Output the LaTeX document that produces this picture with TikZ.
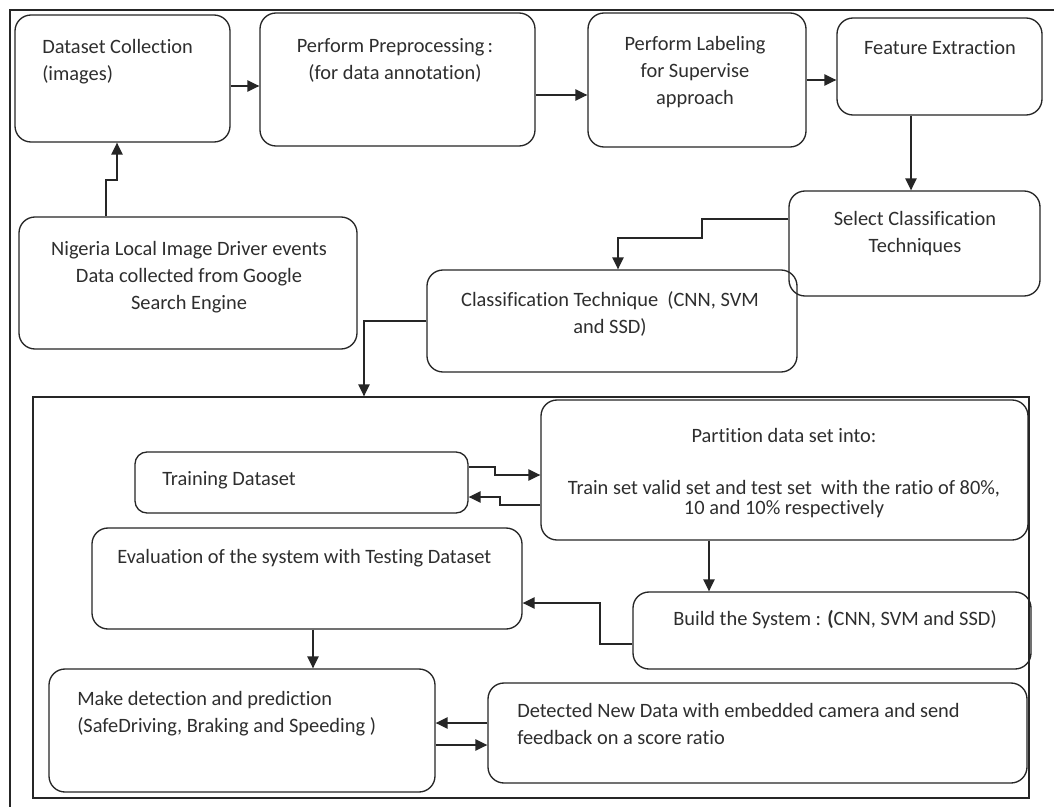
\documentclass[tikz,border=0pt]{standalone}
\usepackage{fontspec}
\setmainfont{Carlito}[Ligatures=NoCommon]
\usetikzlibrary{fit,arrows.meta}
\begin{document}
\begin{tikzpicture}[x=0.75pt,y=-0.75pt,
  box/.style={draw=black!85, line width=1pt, rounded corners=12pt, inner sep=0pt},
  frame/.style={draw=black!85, line width=1pt, inner sep=0pt},
  txt/.style={inner sep=0pt, text=black!82, font=\fontsize{15.3}{20.25}\selectfont},
  arr/.style={draw=black!85, line width=1.1pt, -{Triangle[length=9pt,width=8.5pt]}},
  ]
\useasboundingbox (0,0) rectangle (1054,807);
\fill[white] (0,0) rectangle (1054,807);
% outer frame (only left and top visible)
\draw[black!85, line width=1pt] (10,807) -- (10,10) -- (1054,10);

% boxes
\node[box, fit={(15,15) (230,142)}] (dc) {};
\node[box, fit={(260,13) (535,146)}] (pp) {};
\node[box, fit={(588,13) (806,147)}] (lb) {};
\node[box, fit={(837,18) (1042,115)}] (fe) {};
\node[box, fit={(19,217) (357,349)}] (nig) {};
\node[box, fit={(789,191) (1040,296)}] (sc) {};
\node[box, fit={(427,270) (797,372)}] (ct) {};
\node[frame, fit={(33,397) (1029,798)}] (inner) {};
\node[box, rounded corners=9pt, fit={(135,452) (468,513)}] (tr) {};
\node[box, fit={(541,400) (1028,540)}] (pt) {};
\node[box, fit={(92,528) (522,629)}] (ev) {};
\node[box, fit={(633,592) (1031,669)}] (bs) {};
\node[box, fit={(49,669) (435,792)}] (md) {};
\node[box, fit={(488,683) (1027,783)}] (dn) {};

% texts
\node[txt, anchor=north west, align=left] (dct) at (42,34) {\strut Dataset Collection\\(images)};
\node[txt, anchor=north, align=center] (ppt) at (395,33) {\strut Perform Preprocessing\,:\\(for data annotation)};
\node[txt, anchor=north, align=center] (lbt) at (695,31) {\strut Perform Labeling\\for Supervise\\approach};
\node[txt, anchor=north, align=center] (fet) at (940,35) {\strut Feature Extraction};
\node[txt, anchor=north, align=center] (nigt) at (189,236) {\strut Nigeria Local Image Driver events\\Data collected from Google\\Search Engine};
\node[txt, anchor=north, align=center] (sct) at (915,206) {\strut Select Classification\\Techniques};
\node[txt, anchor=north, align=center] (ctt) at (610,287) {\strut Classification Technique~ (CNN, SVM\\and SSD)};
\node[txt, anchor=north west, align=left] (trt) at (162,466) {\strut Training Dataset};
\node[txt, anchor=north, align=center] (ptt) at (784,423) {\strut Partition data set into:\\[18.75pt]Train set valid set and test set~ with the ratio of 80\%,\\[-5pt]10 and 10\% respectively};
\node[txt, anchor=north west, align=left] (evt) at (117,544) {\strut Evaluation of the system with Testing Dataset};
\node[txt, anchor=north west, align=left] (bst) at (673,606) {\strut Build the System : \textbf{(}CNN, SVM and SSD)};
\node[txt, anchor=north west, align=left] (mdt) at (77,686) {\strut Make detection and prediction\\(SafeDriving, Braking and Speeding )};
\node[txt, anchor=north west, align=left] (dnt) at (517,698) {\strut Detected New Data with embedded camera and send\\feedback on a score ratio};

% helper coordinates
\coordinate (ya) at (0,86);
\coordinate (yb) at (0,95);
\coordinate (yc) at (0,80);
\coordinate (xd) at (911,0);
\coordinate (e1) at (106,180);
\coordinate (e2) at (117,180);
\coordinate (f1) at (702,219);
\coordinate (f2) at (702,238);
\coordinate (f3) at (618,238);
\coordinate (g1) at (364,321);
\coordinate (h1) at (495,467);
\coordinate (h2) at (495,475);
\coordinate (h3) at (500,505);
\coordinate (h4) at (500,497);
\coordinate (xi) at (709,0);
\coordinate (j1) at (600,644);
\coordinate (j2) at (600,603);
\coordinate (xk) at (313,0);
\coordinate (yl1) at (0,723);
\coordinate (yl2) at (0,745);

% connectors
\draw[arr] (dc.east |- ya) -- (pp.west |- ya);
\draw[arr] (pp.east |- yb) -- (lb.west |- yb);
\draw[arr] (lb.east |- yc) -- (fe.west |- yc);
\draw[arr] (fe.south -| xd) -- (sc.north -| xd);
\draw[arr] (nig.north -| e1) -- (e1) -- (e2) -- (dc.south -| e2);
\draw[arr] (sc.west |- f1) -- (f1) -- (f2) -- (f3) -- (ct.north -| f3);
\draw[arr] (ct.west |- g1) -- (g1) -- (inner.north -| g1);
\draw[arr] (tr.east |- h1) -- (h1) -- (h2) -- (pt.west |- h2);
\draw[arr] (pt.west |- h3) -- (h3) -- (h4) -- (tr.east |- h4);
\draw[arr] (pt.south -| xi) -- (bs.north -| xi);
\draw[arr] (bs.west |- j1) -- (j1) -- (j2) -- (ev.east |- j2);
\draw[arr] (ev.south -| xk) -- (md.north -| xk);
\draw[arr] (dn.west |- yl1) -- (md.east |- yl1);
\draw[arr] (md.east |- yl2) -- (dn.west |- yl2);
\end{tikzpicture}
\end{document}
